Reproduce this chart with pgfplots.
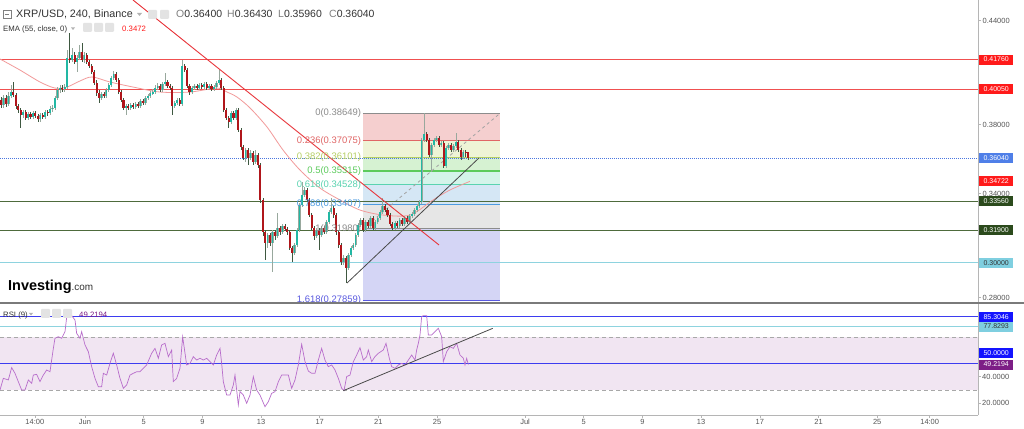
\documentclass[border=0pt]{standalone}
\usepackage{fontspec}
\setmainfont{Liberation Sans}
\usepackage{pgfplots}
\usepackage{pgfplotstable}
\pgfplotsset{compat=1.18}

\definecolor{upc}{HTML}{22B8A4}
\definecolor{dnc}{HTML}{B0161B}
\definecolor{upw}{HTML}{98A89D}
\definecolor{dnw}{HTML}{3E5840}
\definecolor{emac}{HTML}{F29A9A}
\definecolor{hlred}{RGB}{240,80,80}
\definecolor{hlgreen}{RGB}{78,107,60}
\definecolor{hlcyan}{RGB}{142,211,223}
\definecolor{pricec}{HTML}{4A76E0}
\definecolor{axisc}{HTML}{B5B5B5}
\definecolor{tickc}{HTML}{555555}
\definecolor{fibgrey}{HTML}{8C8C8C}
\definecolor{fiba}{HTML}{F5CFCF}
\definecolor{fibb}{HTML}{EEF4D6}
\definecolor{fibc}{HTML}{D6F2D2}
\definecolor{fibd}{HTML}{D4F4EA}
\definecolor{fibe}{HTML}{D5E7F5}
\definecolor{fibf}{HTML}{E6E6E6}
\definecolor{fibg}{HTML}{D4D5F5}
\definecolor{fla}{HTML}{E06666}
\definecolor{flb}{HTML}{B5CE63}
\definecolor{flc}{HTML}{5CCB5C}
\definecolor{fld}{HTML}{5AD3B0}
\definecolor{fle}{HTML}{4C9BE0}
\definecolor{flg}{HTML}{5A5AE0}
\definecolor{rsiline}{HTML}{B86DCB}
\definecolor{rsifill}{HTML}{F1E5F2}
\definecolor{rsiblue}{HTML}{3D3DF0}
\definecolor{rsidash}{HTML}{A8A8A8}
\definecolor{rsipurple}{HTML}{7D1E86}
\definecolor{boxred}{HTML}{FF1A1A}
\definecolor{boxblue}{HTML}{4F7FE8}
\definecolor{boxgreen}{HTML}{2B4A1C}
\definecolor{boxcyan}{HTML}{7FCFE0}
\definecolor{rboxblue}{HTML}{1414FF}
\definecolor{txtc}{HTML}{333333}
\definecolor{iconc}{HTML}{E3E3E3}
\definecolor{sepc}{HTML}{7A7A7A}
\definecolor{trendc}{HTML}{4A4A4A}
\definecolor{downtr}{HTML}{E8353B}

\pgfplotstableread{
o h l c
0.3942 0.3959 0.3896 0.3913
0.3913 0.3971 0.3896 0.3954
0.3954 0.3971 0.3902 0.3919
0.3919 0.3988 0.3907 0.3965
0.3965 0.4029 0.3954 0.3988
0.3988 0.4046 0.3959 0.3971
0.3971 0.3982 0.3890 0.3907
0.3907 0.3919 0.3867 0.3884
0.3884 0.3896 0.3780 0.3855
0.3855 0.3884 0.3838 0.3873
0.3873 0.3884 0.3826 0.3838
0.3838 0.3873 0.3826 0.3861
0.3861 0.3873 0.3832 0.3844
0.3844 0.3878 0.3832 0.3867
0.3867 0.3878 0.3838 0.3850
0.3850 0.3861 0.3815 0.3832
0.3832 0.3867 0.3815 0.3855
0.3855 0.3867 0.3832 0.3844
0.3844 0.3884 0.3832 0.3873
0.3873 0.3884 0.3850 0.3867
0.3867 0.3907 0.3855 0.3890
0.3890 0.3913 0.3873 0.3896
0.3896 0.3965 0.3884 0.3954
0.3954 0.4017 0.3942 0.4000
0.4000 0.4029 0.3982 0.4011
0.4011 0.4029 0.3988 0.4006
0.4006 0.4034 0.3988 0.4017
0.4017 0.4231 0.4006 0.4185
0.4185 0.4329 0.4156 0.4173
0.4173 0.4243 0.4162 0.4202
0.4202 0.4219 0.4150 0.4162
0.4162 0.4202 0.4104 0.4185
0.4185 0.4260 0.4173 0.4219
0.4219 0.4271 0.4162 0.4173
0.4173 0.4219 0.4156 0.4202
0.4202 0.4214 0.4150 0.4162
0.4162 0.4173 0.4127 0.4139
0.4139 0.4150 0.4092 0.4104
0.4104 0.4115 0.4029 0.4040
0.4040 0.4058 0.3965 0.3982
0.3982 0.4000 0.3925 0.3954
0.3954 0.3988 0.3942 0.3977
0.3977 0.3988 0.3954 0.3965
0.3965 0.4011 0.3954 0.4000
0.4000 0.4040 0.3988 0.4029
0.4029 0.4081 0.4017 0.4069
0.4069 0.4110 0.4058 0.4092
0.4092 0.4104 0.4046 0.4058
0.4058 0.4069 0.3977 0.3988
0.3988 0.4000 0.3930 0.3942
0.3942 0.3954 0.3884 0.3896
0.3896 0.3919 0.3855 0.3907
0.3907 0.3919 0.3884 0.3896
0.3896 0.3925 0.3884 0.3913
0.3913 0.3925 0.3890 0.3902
0.3902 0.3930 0.3890 0.3919
0.3919 0.3930 0.3896 0.3907
0.3907 0.3948 0.3896 0.3936
0.3936 0.3948 0.3913 0.3925
0.3925 0.3965 0.3913 0.3954
0.3954 0.3977 0.3942 0.3965
0.3965 0.3994 0.3954 0.3982
0.3982 0.4006 0.3971 0.3988
0.3988 0.4029 0.3977 0.4011
0.4011 0.4040 0.4000 0.4023
0.4023 0.4034 0.3988 0.4000
0.4000 0.4046 0.3988 0.4034
0.4034 0.4098 0.4023 0.4046
0.4046 0.4058 0.4011 0.4023
0.4023 0.4034 0.4000 0.4011
0.4011 0.4023 0.3855 0.3907
0.3907 0.3936 0.3896 0.3925
0.3925 0.3954 0.3913 0.3942
0.3942 0.3954 0.3907 0.3919
0.3919 0.4173 0.3907 0.4139
0.4139 0.4150 0.4104 0.4115
0.4115 0.4127 0.4011 0.4023
0.4023 0.4034 0.3971 0.3988
0.3988 0.4023 0.3977 0.4011
0.4011 0.4034 0.4000 0.4023
0.4023 0.4034 0.4000 0.4011
0.4011 0.4040 0.4000 0.4029
0.4029 0.4040 0.4006 0.4017
0.4017 0.4046 0.4006 0.4034
0.4034 0.4046 0.4000 0.4011
0.4011 0.4034 0.4000 0.4023
0.4023 0.4034 0.3994 0.4006
0.4006 0.4029 0.3994 0.4017
0.4017 0.4052 0.4006 0.4040
0.4040 0.4115 0.4029 0.4058
0.4058 0.4069 0.4000 0.4011
0.4011 0.4023 0.3873 0.3884
0.3884 0.3896 0.3826 0.3838
0.3838 0.3850 0.3780 0.3815
0.3815 0.3878 0.3803 0.3867
0.3867 0.3878 0.3826 0.3838
0.3838 0.3896 0.3826 0.3884
0.3884 0.3896 0.3757 0.3769
0.3769 0.3780 0.3653 0.3670
0.3670 0.3682 0.3595 0.3607
0.3607 0.3665 0.3584 0.3653
0.3653 0.3665 0.3566 0.3607
0.3607 0.3653 0.3595 0.3636
0.3636 0.3647 0.3566 0.3584
0.3584 0.3653 0.3572 0.3624
0.3624 0.3636 0.3549 0.3566
0.3566 0.3578 0.3347 0.3364
0.3364 0.3376 0.3156 0.3179
0.3179 0.3191 0.3017 0.3115
0.3115 0.3173 0.3087 0.3162
0.3162 0.3173 0.3098 0.3115
0.3115 0.3191 0.2948 0.3179
0.3179 0.3191 0.3133 0.3156
0.3156 0.3289 0.3144 0.3202
0.3202 0.3214 0.3162 0.3179
0.3179 0.3225 0.3167 0.3214
0.3214 0.3225 0.3185 0.3196
0.3196 0.3208 0.3162 0.3179
0.3179 0.3191 0.3075 0.3087
0.3087 0.3098 0.3006 0.3058
0.3058 0.3115 0.3046 0.3104
0.3104 0.3202 0.3092 0.3191
0.3191 0.3347 0.3179 0.3335
0.3335 0.3468 0.3324 0.3393
0.3393 0.3439 0.3381 0.3422
0.3422 0.3433 0.3352 0.3364
0.3364 0.3376 0.3266 0.3277
0.3277 0.3289 0.3191 0.3202
0.3202 0.3214 0.3133 0.3156
0.3156 0.3202 0.3144 0.3191
0.3191 0.3202 0.3075 0.3162
0.3162 0.3214 0.3150 0.3202
0.3202 0.3214 0.3167 0.3179
0.3179 0.3248 0.3167 0.3237
0.3237 0.3306 0.3225 0.3295
0.3295 0.3376 0.3283 0.3318
0.3318 0.3329 0.3260 0.3277
0.3277 0.3289 0.3162 0.3179
0.3179 0.3191 0.3087 0.3104
0.3104 0.3115 0.2988 0.3006
0.3006 0.3046 0.2988 0.3029
0.3029 0.3040 0.2884 0.2971
0.2971 0.3058 0.2959 0.3046
0.3046 0.3098 0.3035 0.3087
0.3087 0.3115 0.3075 0.3104
0.3104 0.3173 0.3092 0.3162
0.3162 0.3231 0.3150 0.3220
0.3220 0.3260 0.3208 0.3248
0.3248 0.3260 0.3179 0.3191
0.3191 0.3248 0.3179 0.3237
0.3237 0.3248 0.3202 0.3214
0.3214 0.3271 0.3202 0.3260
0.3260 0.3271 0.3191 0.3202
0.3202 0.3248 0.3191 0.3237
0.3237 0.3271 0.3225 0.3260
0.3260 0.3306 0.3248 0.3295
0.3295 0.3376 0.3283 0.3329
0.3329 0.3341 0.3295 0.3306
0.3306 0.3318 0.3266 0.3277
0.3277 0.3289 0.3214 0.3225
0.3225 0.3237 0.3191 0.3202
0.3202 0.3243 0.3191 0.3231
0.3231 0.3243 0.3202 0.3214
0.3214 0.3260 0.3202 0.3248
0.3248 0.3260 0.3214 0.3225
0.3225 0.3271 0.3214 0.3260
0.3260 0.3271 0.3225 0.3237
0.3237 0.3283 0.3225 0.3271
0.3271 0.3295 0.3260 0.3283
0.3283 0.3318 0.3271 0.3306
0.3306 0.3341 0.3295 0.3329
0.3329 0.3364 0.3318 0.3352
0.3352 0.3722 0.3341 0.3711
0.3711 0.3865 0.3699 0.3745
0.3745 0.3757 0.3699 0.3711
0.3711 0.3722 0.3613 0.3624
0.3624 0.3693 0.3526 0.3682
0.3682 0.3722 0.3670 0.3711
0.3711 0.3734 0.3699 0.3722
0.3722 0.3734 0.3670 0.3682
0.3682 0.3705 0.3670 0.3693
0.3693 0.3705 0.3549 0.3561
0.3561 0.3676 0.3549 0.3665
0.3665 0.3693 0.3653 0.3682
0.3682 0.3693 0.3641 0.3653
0.3653 0.3688 0.3641 0.3676
0.3676 0.3751 0.3665 0.3699
0.3699 0.3711 0.3641 0.3653
0.3653 0.3665 0.3595 0.3613
0.3613 0.3653 0.3601 0.3641
0.3641 0.3653 0.3613 0.3640
0.3640 0.3643 0.3596 0.3604
}\candles

\pgfplotstableread{
d p
-4.794 0.4179
-3.431 0.4115
-2.067 0.4046
-1.045 0.4011
-0.227 0.4017
0.659 0.4052
1.477 0.4075
2.704 0.4046
4.272 0.4017
6.113 0.3988
8.158 0.3988
9.998 0.4011
10.680 0.3988
11.361 0.3959
12.248 0.3896
13.407 0.3786
14.497 0.3653
15.656 0.3537
17.020 0.3433
18.383 0.3364
19.746 0.3306
21.314 0.3277
23.154 0.3277
24.722 0.3364
25.881 0.3422
27.244 0.3472
}\ema

\pgfplotstableread{
d r
-4.794 30.0
-4.567 38.8
-4.226 37.6
-3.999 46.9
-3.772 42.6
-3.544 36.3
-3.317 30.0
-3.090 30.0
-2.863 37.6
-2.635 35.0
-2.522 41.3
-2.295 41.8
-2.067 36.3
-1.840 41.3
-1.613 45.1
-1.386 43.8
-1.158 61.4
-1.045 69.0
-0.818 70.2
-0.590 69.0
-0.363 74.0
-0.250 84.6
0.091 86.1
0.318 82.8
0.432 72.7
0.659 69.0
0.773 74.0
1.000 64.0
1.227 58.9
1.455 47.6
1.682 38.8
1.909 32.5
2.136 32.5
2.250 42.6
2.477 41.3
2.704 50.1
2.932 57.7
3.159 48.9
3.386 38.8
3.613 31.3
3.840 33.8
4.068 41.3
4.295 42.6
4.522 43.8
4.749 43.8
4.977 46.4
5.204 48.9
5.545 57.7
5.772 61.4
5.999 53.9
6.226 64.0
6.453 65.2
6.681 55.2
6.908 60.2
7.021 36.3
7.249 38.8
7.476 46.4
7.658 70.2
7.930 48.9
8.158 50.1
8.385 55.2
8.612 52.6
8.839 53.9
9.067 52.6
9.294 53.9
9.521 51.4
9.748 48.9
9.975 56.4
10.203 61.4
10.316 50.1
10.430 36.3
10.657 26.2
10.884 26.2
11.111 33.8
11.225 41.3
11.452 18.7
11.566 28.8
11.793 26.2
12.020 20.0
12.248 26.2
12.475 40.1
12.702 30.0
12.929 26.2
13.270 17.4
13.497 21.2
13.725 27.5
13.952 28.8
14.179 36.3
14.406 41.3
14.633 41.3
14.861 41.3
15.088 31.3
15.315 37.6
15.542 48.9
15.770 64.5
15.997 51.4
16.224 44.3
16.451 42.6
16.678 42.6
16.906 52.6
17.133 61.4
17.360 52.6
17.587 47.6
17.814 48.9
18.042 45.1
18.269 38.8
18.496 31.3
18.655 29.5
18.837 40.1
19.064 41.3
19.292 51.4
19.519 56.4
19.746 61.9
19.973 52.6
20.200 55.2
20.314 60.2
20.541 51.4
20.768 55.2
20.996 57.7
21.336 60.2
21.518 65.2
21.745 53.9
21.904 47.6
22.132 46.4
22.359 48.9
22.586 50.1
22.813 48.9
23.041 52.6
23.268 56.4
23.495 52.6
23.609 60.2
23.722 65.2
23.836 71.5
23.950 85.3
24.063 86.1
24.290 86.1
24.404 71.5
24.631 71.5
24.858 74.0
25.086 76.5
25.313 70.2
25.426 51.4
25.654 58.9
25.881 62.7
26.108 61.4
26.335 65.2
26.563 56.4
26.790 53.9
26.903 48.9
27.017 53.9
27.130 49.2
}\rsi

\tikzset{
  pbox/.style={anchor=west, minimum width=34bp, minimum height=10bp, inner sep=0pt, font=\fontsize{7}{8}\selectfont, text=white},
  fibl/.style={anchor=east, inner sep=1bp, font=\fontsize{9.5}{10}\selectfont},
}
\pgfplotsset{
  nomark/.style={only marks, mark=*, mark size=0pt, mark options={draw=none, fill=none}},
}

\begin{document}
\begin{tikzpicture}
\useasboundingbox (0bp,0bp) rectangle (1024bp,429bp);
\fill[white] (0bp,0bp) rectangle (1024bp,429bp);

% ---------------- main price panel ----------------
\begin{axis}[
  at={(0bp,127bp)}, anchor=south west, scale only axis,
  width=978bp, height=302bp,
  xmin=-4.794, xmax=61.873, ymin=0.27744, ymax=0.4520,
  axis x line=none, axis y line*=right,
  y axis line style={draw=axisc, line width=0.8bp},
  ytick={0.28,0.34,0.38,0.44},
  extra y ticks={0.30,0.32,0.36,0.40,0.42},
  extra y tick labels={},
  scaled y ticks=false,
  yticklabel={\pgfmathprintnumber[fixed,fixed zerofill,precision=5]{\tick}},
  yticklabel style={font=\fontsize{7.5}{8}\selectfont, text=tickc, inner sep=1.5bp},
  ytick style={draw=axisc, line width=0.6bp},
  major tick length=3bp, tick align=outside,
  /pgf/number format/assume math mode=true,
  clip mode=individual,
]
% Fibonacci bands
\addplot[fill=fiba, draw=none] coordinates {(19.95,0.38649) (29.29,0.38649) (29.29,0.37075) (19.95,0.37075)} -- cycle;
\addplot[fill=fibb, draw=none] coordinates {(19.95,0.37075) (29.29,0.37075) (29.29,0.36101) (19.95,0.36101)} -- cycle;
\addplot[fill=fibc, draw=none] coordinates {(19.95,0.36101) (29.29,0.36101) (29.29,0.35315) (19.95,0.35315)} -- cycle;
\addplot[fill=fibd, draw=none] coordinates {(19.95,0.35315) (29.29,0.35315) (29.29,0.34528) (19.95,0.34528)} -- cycle;
\addplot[fill=fibe, draw=none] coordinates {(19.95,0.34528) (29.29,0.34528) (29.29,0.33407) (19.95,0.33407)} -- cycle;
\addplot[fill=fibf, draw=none] coordinates {(19.95,0.33407) (29.29,0.33407) (29.29,0.31980) (19.95,0.31980)} -- cycle;
\addplot[fill=fibg, draw=none] coordinates {(19.95,0.31980) (29.29,0.31980) (29.29,0.27859) (19.95,0.27859)} -- cycle;
% Fibonacci level lines
\addplot[color=fibgrey, line width=0.8bp] coordinates {(19.95,0.38649) (29.29,0.38649)};
\addplot[color=fla, line width=0.9bp] coordinates {(19.95,0.37075) (29.29,0.37075)};
\addplot[color=flb, line width=0.9bp] coordinates {(19.95,0.36101) (29.29,0.36101)};
\addplot[color=flc, line width=1.6bp] coordinates {(19.95,0.35315) (29.29,0.35315)};
\addplot[color=fld, line width=0.9bp] coordinates {(19.95,0.34528) (29.29,0.34528)};
\addplot[color=fle, line width=0.9bp] coordinates {(19.95,0.33407) (29.29,0.33407)};
\addplot[color=fibgrey, line width=0.8bp] coordinates {(19.95,0.31980) (29.29,0.31980)};
\addplot[color=flg, line width=0.9bp] coordinates {(19.95,0.27859) (29.29,0.27859)};
\addplot[color=fibgrey!80, dash pattern=on 3bp off 3bp, line width=0.8bp] coordinates {(19.95,0.31980) (29.29,0.38649)};

% horizontal levels
\addplot[color=hlred, line width=1.1bp] coordinates {(-4.794,0.4176) (61.873,0.4176)};
\addplot[color=hlred, line width=1.1bp] coordinates {(-4.794,0.4005) (61.873,0.4005)};
\addplot[color=pricec, line width=0.7bp, dash pattern=on 1bp off 1bp] coordinates {(-4.794,0.3604) (61.873,0.3604)};
\addplot[color=hlgreen, line width=1bp] coordinates {(-4.794,0.3356) (61.873,0.3356)};
\addplot[color=hlgreen, line width=1bp] coordinates {(-4.794,0.3190) (61.873,0.3190)};
\addplot[color=hlcyan, line width=1bp] coordinates {(-4.794,0.3000) (61.873,0.3000)};

% EMA 55
\addplot[color=emac, line width=0.8bp, smooth] table[x=d, y=p] {\ema};

% candles: wicks
\addplot[nomark, error bars/.cd, y dir=both, y explicit, error mark=none,
  error bar style={draw=upw, line width=0.6bp}]
  table[x expr={-4.712+\coordindex/6}, y expr={\thisrow{c}>=\thisrow{o} ? (\thisrow{h}+\thisrow{l})/2 : nan},
        y error expr={(\thisrow{h}-\thisrow{l})/2}] {\candles};
\addplot[nomark, error bars/.cd, y dir=both, y explicit, error mark=none,
  error bar style={draw=dnw, line width=0.6bp}]
  table[x expr={-4.712+\coordindex/6}, y expr={\thisrow{c}<\thisrow{o} ? (\thisrow{h}+\thisrow{l})/2 : nan},
        y error expr={(\thisrow{h}-\thisrow{l})/2}] {\candles};
% candles: bodies (outline then fill)
\addplot[nomark, error bars/.cd, y dir=both, y explicit, error mark=none,
  error bar style={draw=upw, line width=2.3bp}]
  table[x expr={-4.712+\coordindex/6}, y expr={\thisrow{c}>=\thisrow{o} ? (\thisrow{o}+\thisrow{c})/2 : nan},
        y error expr={abs(\thisrow{c}-\thisrow{o})/2+0.0002}] {\candles};
\addplot[nomark, error bars/.cd, y dir=both, y explicit, error mark=none,
  error bar style={draw=upc, line width=1.5bp}]
  table[x expr={-4.712+\coordindex/6}, y expr={\thisrow{c}>=\thisrow{o} ? (\thisrow{o}+\thisrow{c})/2 : nan},
        y error expr={abs(\thisrow{c}-\thisrow{o})/2}] {\candles};
\addplot[nomark, error bars/.cd, y dir=both, y explicit, error mark=none,
  error bar style={draw=dnc, line width=2.1bp}]
  table[x expr={-4.712+\coordindex/6}, y expr={\thisrow{c}<\thisrow{o} ? (\thisrow{o}+\thisrow{c})/2 : nan},
        y error expr={abs(\thisrow{c}-\thisrow{o})/2}] {\candles};

% trend lines
\addplot[color=downtr, line width=0.9bp] coordinates {(4.272,0.4520) (25.131,0.3104)};
\addplot[color=trendc, line width=0.8bp] coordinates {(18.860,0.2884) (27.858,0.3607)};

% fib labels
\node[fibl, text=fibgrey] at (axis cs:19.9,0.38649) {0(0.38649)};
\node[fibl, text=fla] at (axis cs:19.9,0.37075) {0.236(0.37075)};
\node[fibl, text=flb] at (axis cs:19.9,0.36101) {0.382(0.36101)};
\node[fibl, text=flc] at (axis cs:19.9,0.35315) {0.5(0.35315)};
\node[fibl, text=fld] at (axis cs:19.9,0.34528) {0.618(0.34528)};
\node[fibl, text=fle] at (axis cs:19.9,0.33407) {0.786(0.33407)};
\node[fibl, text=fibgrey] at (axis cs:19.9,0.31980) {1(0.31980)};
\node[fibl, text=flg] at (axis cs:19.9,0.27859) {1.618(0.27859)};

\coordinate (m1) at (axis cs:61.873,0.4176);
\coordinate (m2) at (axis cs:61.873,0.4005);
\coordinate (m3) at (axis cs:61.873,0.3604);
\coordinate (m4) at (axis cs:61.873,0.34722);
\coordinate (m5) at (axis cs:61.873,0.3356);
\coordinate (m6) at (axis cs:61.873,0.3190);
\coordinate (m7) at (axis cs:61.873,0.3000);
\end{axis}

% hide anything below main panel, then separator
\fill[white] (0bp,100bp) rectangle (978bp,126bp);
\draw[sepc, line width=1.8bp] (0bp,126.3bp) -- (1024bp,126.3bp);

% ---------------- RSI panel ----------------
\begin{axis}[
  at={(0bp,14bp)}, anchor=south west, scale only axis,
  width=978bp, height=111bp,
  xmin=-4.794, xmax=61.873, ymin=11.16, ymax=94.87,
  axis x line*=bottom, axis y line*=right,
  axis line style={draw=axisc, line width=0.8bp},
  xtick={-2.42,1,5,9,13,17,21,25,31,35,39,43,47,51,55,58.58},
  xticklabels={14:00,Jun,5,9,13,17,21,25,Jul,5,9,13,17,21,25,14:00},
  ytick={20,40},
  extra y ticks={60,80},
  extra y tick labels={},
  yticklabel={\pgfmathprintnumber[fixed,fixed zerofill,precision=4]{\tick}},
  ticklabel style={font=\fontsize{7.5}{8}\selectfont, text=tickc},
  xticklabel style={inner sep=1.5bp},
  yticklabel style={inner sep=1.5bp},
  tick style={draw=axisc, line width=0.6bp},
  major tick length=2.5bp, tick align=outside,
  /pgf/number format/assume math mode=true,
  clip mode=individual,
]
\addplot[fill=rsifill, draw=none] coordinates {(-4.794,30) (61.873,30) (61.873,70) (-4.794,70)} -- cycle;
\addplot[color=rsidash, line width=0.8bp, dash pattern=on 4bp off 3bp] coordinates {(-4.794,70) (61.873,70)};
\addplot[color=rsidash, line width=0.8bp, dash pattern=on 4bp off 3bp] coordinates {(-4.794,30) (61.873,30)};
\addplot[color=rsiblue, line width=0.9bp] coordinates {(-4.794,85.3046) (61.873,85.3046)};
\addplot[color=hlcyan, line width=0.9bp] coordinates {(-4.794,77.8293) (61.873,77.8293)};
\addplot[color=rsiblue, line width=0.9bp] coordinates {(-4.794,50) (61.873,50)};
\addplot[color=rsiline, line width=0.7bp] table[x=d, y=r] {\rsi};
\addplot[color=trendc, line width=0.8bp] coordinates {(18.609,29.5) (28.792,76.5)};
\coordinate (r1) at (axis cs:61.873,85.3046);
\coordinate (r2) at (axis cs:61.873,77.8293);
\coordinate (r3) at (axis cs:61.873,57.9);
\coordinate (r4) at (axis cs:61.873,49.2194);
\end{axis}

% ---------------- right-hand value boxes ----------------
\node[pbox, fill=boxred] at ([xshift=1bp]m1) {0.41760};
\node[pbox, fill=boxred] at ([xshift=1bp]m2) {0.40050};
\node[pbox, fill=boxblue] at ([xshift=1bp]m3) {0.36040};
\node[pbox, fill=boxred] at ([xshift=1bp]m4) {0.34722};
\node[pbox, fill=boxgreen] at ([xshift=1bp]m5) {0.33560};
\node[pbox, fill=boxgreen] at ([xshift=1bp]m6) {0.31900};
\node[pbox, fill=boxcyan, text=txtc] at ([xshift=1bp]m7) {0.30000};
\node[pbox, fill=rboxblue] at ([xshift=1bp]r1) {85.3046};
\node[pbox, fill=boxcyan, text=txtc] at ([xshift=1bp]r2) {77.8293};
\node[pbox, fill=rboxblue] at ([xshift=1bp]r3) {50.0000};
\node[pbox, fill=rsipurple] at ([xshift=1bp]r4) {49.2194};

% ---------------- headers ----------------
\begin{scope}[x=1bp, y=1bp]
\draw[gray, line width=0.6bp] (3,411) rectangle (11,419);
\draw[gray, line width=0.6bp] (5,415) -- (9,415);
\node[anchor=base west, inner sep=0, font=\fontsize{10.8}{12}\selectfont, text=txtc] at (16,411) {XRP/USD, 240, Binance};
\fill[gray!60] (137,416) -- (142,416) -- (139.5,413) -- cycle;
\fill[iconc, rounded corners=1bp] (148,410) rectangle (157,419);
\fill[iconc, rounded corners=1bp] (160,410) rectangle (169,419);
\node[anchor=base west, inner sep=0, font=\fontsize{10.5}{12}\selectfont, text=txtc] at (176,411) {{\color{gray}O}0.36400};
\node[anchor=base west, inner sep=0, font=\fontsize{10.5}{12}\selectfont, text=txtc] at (227,411) {{\color{gray}H}0.36430};
\node[anchor=base west, inner sep=0, font=\fontsize{10.5}{12}\selectfont, text=txtc] at (278,411) {{\color{gray}L}0.35960};
\node[anchor=base west, inner sep=0, font=\fontsize{10.5}{12}\selectfont, text=txtc] at (329,411) {{\color{gray}C}0.36040};

\node[anchor=base west, inner sep=0, font=\fontsize{7.8}{9}\selectfont, text=txtc] at (3,397.5) {EMA (55, close, 0)};
\fill[gray!60] (71,401.5) -- (75,401.5) -- (73,399) -- cycle;
\fill[iconc, rounded corners=1bp] (83,397) rectangle (92,406);
\fill[iconc, rounded corners=1bp] (94,397) rectangle (103,406);
\fill[iconc, rounded corners=1bp] (105,397) rectangle (114,406);
\node[anchor=base west, inner sep=0, font=\fontsize{7.8}{9}\selectfont, text=boxred] at (122,397.5) {0.3472};

\node[anchor=base west, inner sep=0, font=\fontsize{7.8}{9}\selectfont, text=txtc] at (3,112) {RSI (9)};
\fill[gray!60] (29,116) -- (33,116) -- (31,113.5) -- cycle;
\fill[iconc, rounded corners=1bp] (41,111) rectangle (50,120);
\fill[iconc, rounded corners=1bp] (52,111) rectangle (61,120);
\fill[iconc, rounded corners=1bp] (63,111) rectangle (72,120);
\node[anchor=base west, inner sep=0, font=\fontsize{7.8}{9}\selectfont, text=rsipurple] at (79,112) {49.2194};

\node[anchor=base west, inner sep=0] at (8,139) {\fontsize{14.5}{15}\selectfont\bfseries Investing\fontsize{10}{11}\selectfont\mdseries\color{txtc}.com};
\end{scope}
\end{tikzpicture}
\end{document}
